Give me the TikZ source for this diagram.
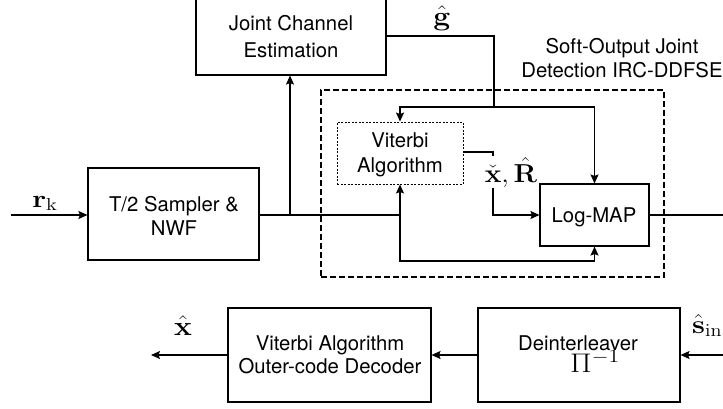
\RequirePackage{fix-cm}
\documentclass[tikz,border=0pt]{standalone}
\usepackage{graphicx}
\usepackage[no-math]{fontspec}
\setmainfont{TeX Gyre Heros}
\usetikzlibrary{arrows.meta}

\tikzset{
  blk/.style={draw, line width=1.1pt, inner sep=0pt},
  txt/.style={anchor=base, inner sep=0pt, font=\fontsize{20.3}{24}\selectfont},
  mth/.style={anchor=base, inner sep=0pt, font=\fontsize{20.74}{24}\selectfont},
  wire/.style={line width=1.1pt},
  arr/.style={wire, -{Stealth[length=9pt,width=8pt,inset=1.5pt]}},
}

\begin{document}
\begin{tikzpicture}[x=1pt, y=-1pt]
\useasboundingbox (0,0) rectangle (723,408);

% detector frame (drawn first so the wires run over it)
\node[draw, line width=1.6pt, dash pattern=on 6pt off 3pt,
      minimum width=343pt, minimum height=187pt] (ddfse) at (492.5,183.5) {};
\node[txt] (ddfseA) at (622,53) {Soft-Output Joint};
\node[txt] (ddfseB) at (622,77) {Detection IRC-DDFSE};

% blocks
\node[blk, minimum width=190pt, minimum height=85pt] (jce) at (291,32.5) {};
\node[txt] (jceA) at (291,30) {Joint Channel};
\node[txt] (jceB) at (291,57) {Estimation};

\node[blk, minimum width=171pt, minimum height=92pt] (samp) at (173.5,214) {};
\node[txt] (sampA) at (174,211) {T/2 Sampler \&};
\node[txt] (sampB) at (174,235) {NWF};

\node[draw, line width=0.9pt, dash pattern=on 2pt off 1.5pt, inner sep=0pt,
      minimum width=126pt, minimum height=62pt] (vit) at (400,153) {};
\node[txt] (vitA) at (400,147) {Viterbi};
\node[txt] (vitB) at (400,172) {Algorithm};

\node[blk, minimum width=109pt, minimum height=62pt] (logmap) at (594.5,215) {};
\node[txt] (logmapA) at (594,222) {Log-MAP};

\node[blk, minimum width=203pt, minimum height=94pt] (outer) at (329.5,355) {};
\node[txt] (outerA) at (330,350) {Viterbi Algorithm};
\node[txt] (outerB) at (330,373) {Outer-code Decoder};

\node[blk, minimum width=202pt, minimum height=94pt] (deint) at (579,355) {};
\node[txt] (deintA) at (578,350) {Deinterleaver};
\node[mth, anchor=base west] (pinv) at (570,372) {\scalebox{1.5}[1.3]{$\Pi^{-1}$}};

% labels
\node[mth] (rk) at (45,207) {\scalebox{1.45}[1.2]{$\mathbf{r}_{\mathrm{k}}$}};
\node[mth] (ghat) at (442,25) {\scalebox{1.45}[1.3]{$\hat{\mathbf{g}}$}};
\node[mth] (xhat) at (183,335) {\scalebox{1.45}[1.3]{$\hat{\mathbf{x}}$}};
\node[mth, anchor=base west] (shat) at (692,333) {\scalebox{1.4}[1.25]{$\hat{\mathbf{s}}_{\mathrm{in}}$}};

% connector corners and free ends
\coordinate (rin) at (11,215);
\coordinate (gy) at (494,36);
\coordinate (gsplit) at (494,107);
\coordinate (tap) at (290,215);
\coordinate (fork) at (400,215);
\coordinate (fb) at (400,261);
\coordinate (vo) at (493,152);
\coordinate (lmout) at (730,215);
\coordinate (sin) at (730,355);
\coordinate (xout) at (151,355);

% channel estimate distribution
\draw[wire] (jce.east |- gy) -- (gy) -- (gsplit);
\draw[arr] (gsplit) -| (vit.north);
\draw[arr] (gsplit) -| (logmap.north);

% received signal path
\draw[arr] (rin) -- (samp.west |- rin);
\draw[wire, line width=1.5pt] (samp.east |- fork) -- (fork);
\draw[arr] (tap) -- (tap |- jce.south);
\draw[arr] (fork) -- (vit.south);
\draw[arr] (fork) -- (fb) -| (logmap.south);
\draw[arr] (vit.east |- vo) -- (vo) |- (logmap.west);
\node[mth, fill=white, inner sep=1pt] (xr) at (511,182) {\scalebox{1.35}[1.25]{$\check{\mathbf{x}},\hat{\mathbf{R}}$}};
\draw[wire] (logmap.east) -- (lmout);

% outer decoding chain
\draw[arr] (sin) -- (deint.east);
\draw[arr] (deint.west) -- (outer.east);
\draw[arr] (outer.west) -- (xout);
\end{tikzpicture}
\end{document}
